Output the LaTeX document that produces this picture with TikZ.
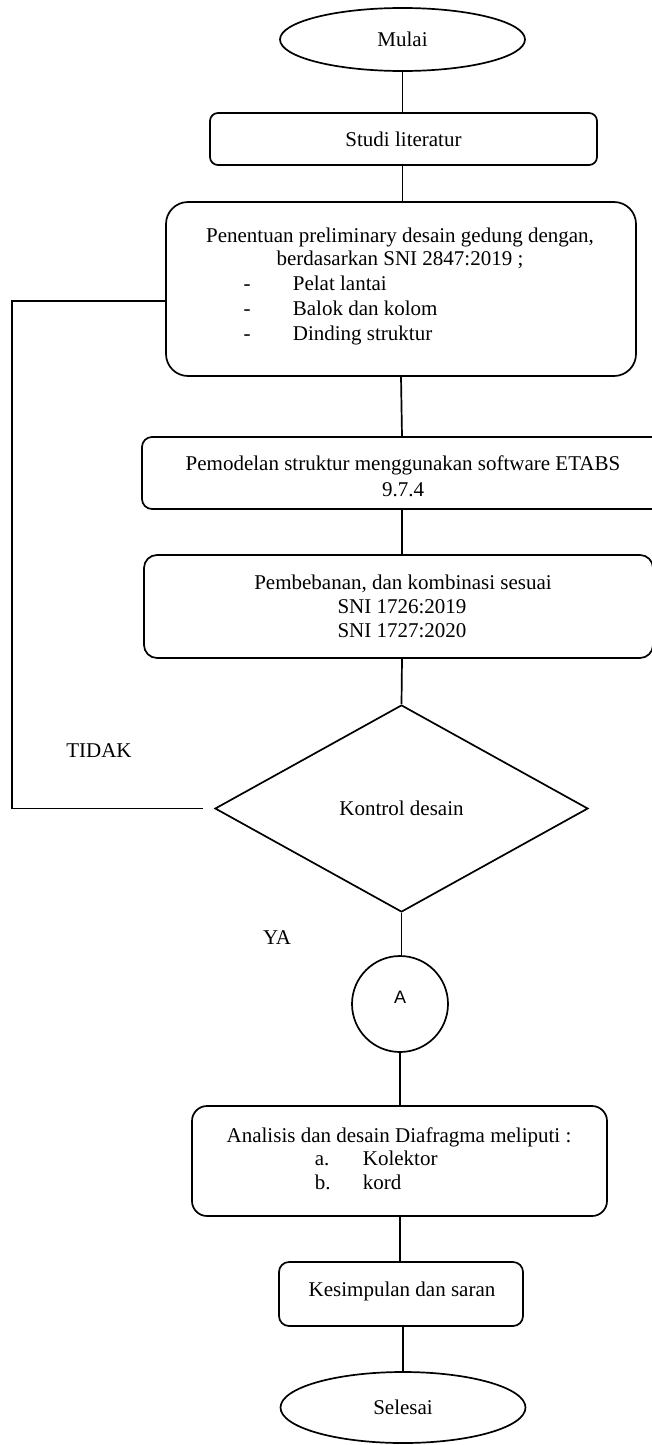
\documentclass[tikz,border=0pt]{standalone}
\usepackage{fontspec}
\setmainfont{Liberation Serif}
\setsansfont{Liberation Sans}
\usetikzlibrary{shapes.geometric}
\newcommand{\flowfont}{\fontsize{21}{24.5}\selectfont}
\begin{document}
\begin{tikzpicture}[x=1pt,y=-1pt,line width=1.7pt,
  box/.style={draw,rectangle,rounded corners=#1,inner sep=0pt,font=\flowfont},
  term/.style={draw,ellipse,inner sep=0pt,minimum width=245pt,font=\flowfont},
  txt/.style={inner sep=0pt,anchor=base,font=\flowfont},
  txtl/.style={inner sep=0pt,anchor=base west,font=\flowfont},
  conn/.style={draw,line width=1.7pt}]
\useasboundingbox (0,0) rectangle (652,1445);

% shapes
\node[term,minimum height=63pt] (mulai) at (402.5,39.5) {Mulai};
\node[box=8pt,minimum width=387pt,minimum height=52pt] (studi) at (403.5,139) {Studi literatur};
\node[box=22pt,minimum width=470pt,minimum height=174pt] (penentuan) at (401,289) {};
\node[box=10pt,minimum width=523pt,minimum height=72pt] (pemodelan) at (403.5,473) {};
\node[box=13pt,minimum width=509pt,minimum height=103pt] (pembebanan) at (398.5,606.5) {};
\node[draw,diamond,inner sep=0pt,aspect=1.8,minimum width=373pt,minimum height=207pt,font=\flowfont] (kontrol) at (401.5,808.5) {Kontrol desain};
\node[draw,circle,inner sep=0pt,minimum size=96pt] (A) at (400,1004) {};
\node[box=15pt,minimum width=415pt,minimum height=110pt] (analisis) at (399.5,1161) {};
\node[box=10pt,minimum width=244pt,minimum height=64pt] (kesimpulan) at (401,1294) {};
\node[term,minimum height=71pt] (selesai) at (403,1407.5) {Selesai};

% texts
\node[txt] (p1) at (400,242) {Penentuan preliminary desain gedung dengan,};
\node[txt] (p2) at (400,265) {berdasarkan SNI 2847:2019 ;};
\node[txt] (d1) at (247,290) {-};
\node[txtl] (p3) at (292,290) {Pelat lantai};
\node[txt] (d2) at (247,315) {-};
\node[txtl] (p4) at (292,315) {Balok dan kolom};
\node[txt] (d3) at (247,340) {-};
\node[txtl] (p5) at (292,340) {Dinding struktur};

\node[txt] (m1) at (403,470) {Pemodelan struktur menggunakan software ETABS};
\node[txt] (m2) at (403,496) {9.7.4};

\node[txt] (b1) at (403,589) {Pembebanan, dan kombinasi sesuai};
\node[txt] (b2) at (402,613) {SNI 1726:2019};
\node[txt] (b3) at (402,637) {SNI 1727:2020};

\node[txt] (tidak) at (99,757) {TIDAK};
\node[txt] (ya) at (277,944) {YA};
\node[inner sep=0pt,font=\sffamily\fontsize{18}{20}\selectfont] (Alabel) at (400,997) {A};

\node[txt] (a1) at (399,1142) {Analisis dan desain Diafragma meliputi :};
\node[txtl] (a2) at (314,1165) {a.};
\node[txtl] (a3) at (362,1165) {Kolektor};
\node[txtl] (a4) at (314,1189) {b.};
\node[txtl] (a5) at (362,1189) {kord};

\node[txt] (k1) at (402,1296) {Kesimpulan dan saran};

% connectors
\draw[conn] (mulai.south) -- (mulai.south |- studi.north);
\draw[conn] (studi.south -| mulai.south) -- (mulai.south |- penentuan.north);
\draw[conn] (penentuan.south) -- (pemodelan.north -| 402,0);
\draw[conn] (pemodelan.south -| 402,0) -- (pembebanan.north -| 402,0);
\draw[conn] (pembebanan.south -| 402,0) -- (kontrol.north);
\draw[conn] (kontrol.south) -- (kontrol.south |- A.north);
\draw[conn] (A.south) -- (A.south |- analisis.north);
\draw[conn] (analisis.south -| A.south) -- (A.south |- kesimpulan.north);
\draw[conn] (kesimpulan.south -| selesai.north) -- (selesai.north);
\coordinate (fb) at (12,301);
\draw[conn] ([xshift=-11pt]kontrol.west) -| (fb) -- (fb -| penentuan.west);
\end{tikzpicture}
\end{document}
